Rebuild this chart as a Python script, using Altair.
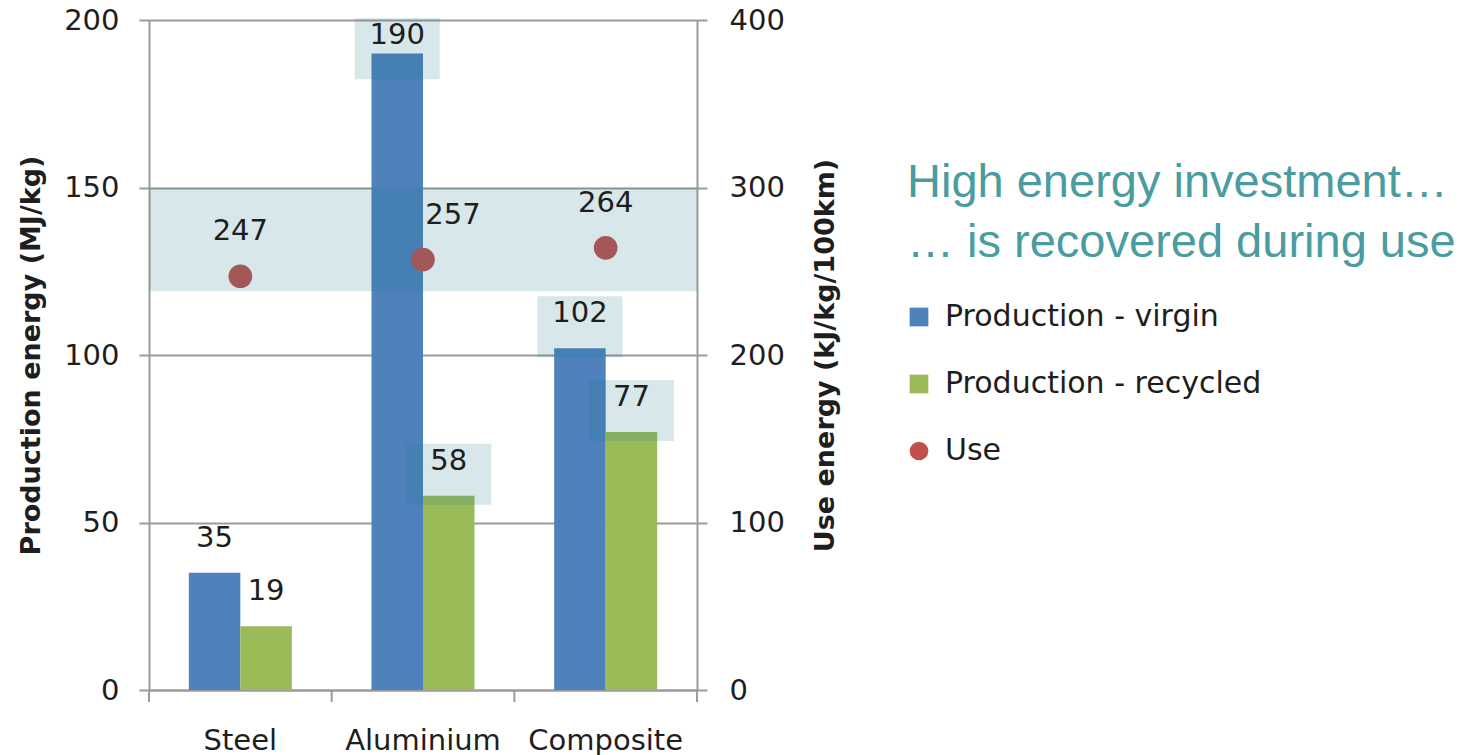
import altair as alt
import pandas as pd

# ---------------- data ----------------
materials = ["Steel", "Aluminium", "Composite"]
series_names = ["Production - virgin", "Production - recycled", "Use"]
virgin = [35, 190, 102]            # MJ/kg
recycled = [19, 58, 77]            # MJ/kg
use = [247, 257, 264]              # kJ/kg/100km
highlighted = ["Aluminium", "Composite"]   # materials whose bar labels are boxed
band_range = [119, 150]            # highlighted band on the production axis (MJ/kg)
nudged_use_labels = ["Aluminium"]  # use label moved right to clear the bar
left_ticks = [0, 50, 100, 150, 200]
right_ticks = [0, 100, 200, 300, 400]
headline = "High energy investment…\n… is recovered during use"

# ---------------- styling ----------------
FONT = "DejaVu Sans"
TEXT = "#1e1e1e"
GRID = "#9b9b9b"
HL = "#1f7a8c"
TEAL = "#4a9ca0"
FS = 29
LABEL_CAP = 185      # labels kept inside the plot area (MJ/kg)
USE_NUDGE = 30

bars_df = pd.DataFrame({
    "material": materials * 2,
    "series": [series_names[0]] * len(materials) + [series_names[1]] * len(materials),
    "value": virgin + recycled,
})
use_df = pd.DataFrame({"material": materials, "series": [series_names[2]] * len(materials), "value": use})
band_df = pd.DataFrame({"lo": [band_range[0]], "hi": [band_range[1]]})
bounds_df = pd.DataFrame({"b": list(range(len(materials) + 1))})
head_df = pd.DataFrame({"text": [headline]})

x_scale = alt.Scale(domain=materials, paddingInner=0.436, paddingOuter=0.218)
off_scale = alt.Scale(domain=series_names[:2], paddingInner=0, paddingOuter=0)
yl_scale = alt.Scale(domain=[0, 200], nice=False)
yr_scale = alt.Scale(domain=[0, 400], nice=False)
color_scale = alt.Scale(domain=series_names, range=["#4f81bd", "#9bbb59", "#c0504d"])
shape_scale = alt.Scale(domain=series_names, range=["square", "square", "circle"])

x_hidden = alt.X("material:N", scale=x_scale, sort=materials, axis=None)
off_enc = alt.XOffset("series:N", scale=off_scale, sort=series_names[:2])

legend_kw = dict(orient="none", legendX=755, legendY=282, title=None, symbolSize=350,
                 labelFont=FONT, labelFontSize=30, labelColor=TEXT, rowPadding=37,
                 labelOffset=11, symbolStrokeWidth=0, symbolOpacity=1, labelLimit=600)

bars = alt.Chart(bars_df).mark_bar().encode(
    x=alt.X("material:N", scale=x_scale, sort=materials,
            axis=alt.Axis(title=None, ticks=False, domain=True, domainColor=GRID, domainWidth=2,
                          labelFont=FONT, labelFontSize=FS, labelColor=TEXT, labelPadding=36,
                          labelAngle=0)),
    xOffset=off_enc,
    y=alt.Y("value:Q", scale=yl_scale,
            axis=alt.Axis(orient="left", values=left_ticks, grid=True, gridColor=GRID, gridWidth=2,
                          domainColor=GRID, domainWidth=2, tickColor=GRID, tickWidth=2, tickSize=10,
                          labelFont=FONT, labelFontSize=FS, labelColor=TEXT, labelPadding=20,
                          title="Production energy (MJ/kg)", titleFont=FONT, titleFontSize=27,
                          titleFontWeight="bold", titleColor=TEXT, titlePadding=18)),
    color=alt.Color("series:N", scale=color_scale, legend=alt.Legend(**legend_kw)),
)

points = alt.Chart(use_df).mark_point(filled=True, size=560, opacity=1).encode(
    x=x_hidden,
    y=alt.Y("value:Q", scale=yr_scale,
            axis=alt.Axis(orient="right", values=right_ticks, grid=False,
                          domainColor=GRID, domainWidth=2, tickColor=GRID, tickWidth=2, tickSize=10,
                          labelFont=FONT, labelFontSize=FS, labelColor=TEXT, labelPadding=22,
                          title="Use energy (kJ/kg/100km)", titleFont=FONT, titleFontSize=27,
                          titleFontWeight="bold", titleColor=TEXT, titlePadding=55, titleAngle=270)),
    color=alt.Color("series:N", scale=color_scale, legend=alt.Legend(**legend_kw)),
    shape=alt.Shape("series:N", scale=shape_scale, legend=alt.Legend(**legend_kw)),
)

band = alt.Chart(band_df).mark_rect(color=HL, opacity=0.18).encode(
    y=alt.Y("lo:Q", scale=yl_scale, axis=None), y2="hi:Q",
    x=alt.value(0), x2=alt.value("width"),
)

boxes = alt.Chart(bars_df).transform_filter(
    alt.FieldOneOfPredicate(field="material", oneOf=highlighted)
).transform_calculate(anchor=f"min(datum.value, {LABEL_CAP})").mark_bar(
    width=85, yOffset=-52, y2Offset=9, color=HL, opacity=0.18
).encode(
    x=x_hidden, xOffset=off_enc,
    y=alt.Y("anchor:Q", scale=yl_scale, axis=None), y2="anchor:Q",
)

bar_labels = alt.Chart(bars_df).transform_calculate(
    anchor=f"min(datum.value, {LABEL_CAP})"
).mark_text(font=FONT, fontSize=FS, color=TEXT, baseline="middle", dy=-35).encode(
    x=x_hidden, xOffset=off_enc,
    y=alt.Y("anchor:Q", scale=yl_scale, axis=None),
    text="value:Q",
)

use_labels = alt.Chart(use_df).transform_filter(
    ~alt.FieldOneOfPredicate(field="material", oneOf=nudged_use_labels)
).mark_text(font=FONT, fontSize=FS, color=TEXT, baseline="middle", dy=-45).encode(
    x=x_hidden, y=alt.Y("value:Q", scale=yr_scale, axis=None), text="value:Q",
)
use_labels_nudged = alt.Chart(use_df).transform_filter(
    alt.FieldOneOfPredicate(field="material", oneOf=nudged_use_labels)
).mark_text(font=FONT, fontSize=FS, color=TEXT, baseline="middle", dy=-45, dx=USE_NUDGE).encode(
    x=x_hidden, y=alt.Y("value:Q", scale=yr_scale, axis=None), text="value:Q",
)

cat_ticks = alt.Chart(bounds_df).mark_rule(color=GRID, strokeWidth=2).encode(
    x=alt.X("b:Q", scale=alt.Scale(domain=[0, len(materials)], nice=False, zero=False), axis=None),
    y=alt.value("height"), y2=alt.value(682),
)

head = alt.Chart(head_df).mark_text(
    align="left", baseline="alphabetic", font="Liberation Sans", fontSize=47,
    color=TEAL, lineBreak="\n", lineHeight=60,
).encode(x=alt.value(758), y=alt.value(177), text="text:N")

chart = alt.layer(
    bars, points, band, boxes, bar_labels, use_labels, use_labels_nudged, cat_ticks, head
).resolve_scale(x="independent", y="independent").properties(
    width=548, height=670,
    autosize=alt.AutoSizeParams(type="none"),
    padding={"left": 149, "top": 20, "right": 780, "bottom": 65},
).configure_view(stroke=None)

chart.save("out.html", embed_options={"renderer": "svg", "actions": False})
